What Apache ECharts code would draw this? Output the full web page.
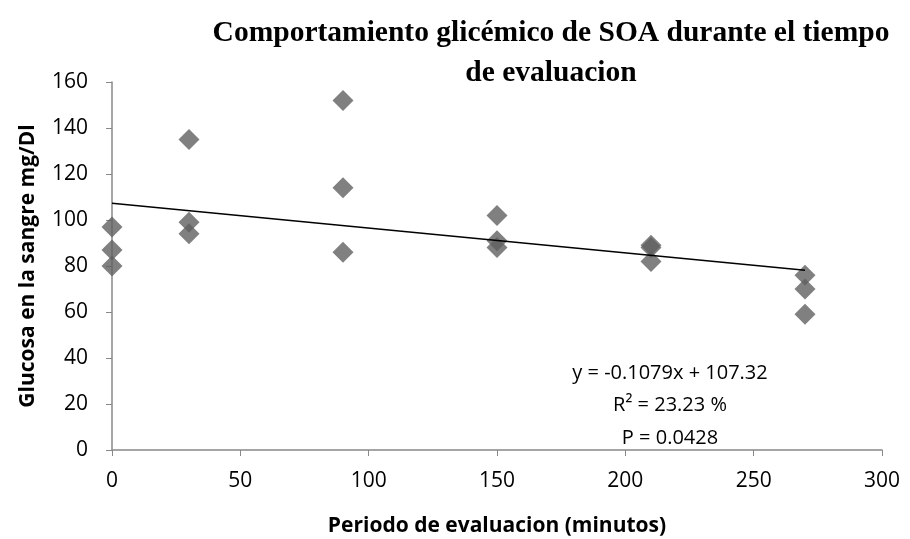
<!DOCTYPE html>
<html><head><meta charset="utf-8">
<script src="https://cdn.jsdelivr.net/npm/echarts@6/dist/echarts.min.js"></script>
<style>html,body{margin:0;padding:0;background:#fff}#c{width:910px;height:539px}</style>
</head><body><div id="c"></div>
<script>
const xValues = [0,0,0,30,30,30,90,90,90,150,150,150,210,210,210,270,270,270];
const yValues = [97,87,80,135,99,94,152,114,86,102,91,88,89,88,82,76,70,59];
const trendSlope = -0.1079;
const trendIntercept = 107.32;
const trendRange = [0, 270];
const xTicks = [0,50,100,150,200,250,300];
const yTicks = [0,20,40,60,80,100,120,140,160];
const titleLines = ['Comportamiento glicémico de SOA durante el tiempo','de evaluacion'];
const statLines = ['y = -0.1079x + 107.32','R² = 23.23 %','P = 0.0428'];

const chart = echarts.init(document.getElementById('c'));
const pts = xValues.map((x,i)=>[x,yValues[i]]);
const trend = trendRange.map(x=>[x, trendIntercept + trendSlope*x]);
const font = 'Open Sans';
chart.setOption({
  animation:false,
  title:{text:titleLines.join('\n'), left:546, top:8, textAlign:'center',
    textStyle:{fontFamily:'Liberation Serif', fontWeight:'bold', fontSize:29.5, color:'#000', lineHeight:40}},
  grid:{left:112, right:28, top:82, bottom:89, outerBoundsMode:'none', containLabel:false},
  xAxis:{type:'value', min:xTicks[0], max:xTicks[xTicks.length-1], interval:50,
    name:'Periodo de evaluacion (minutos)', nameLocation:'middle', nameGap:66,
    nameTextStyle:{fontFamily:font, fontWeight:'bold', fontSize:21, color:'#000'},
    axisLine:{lineStyle:{color:'#888', width:1.5}},
    axisTick:{show:true, length:6, lineStyle:{color:'#888'}},
    axisLabel:{fontFamily:font, fontSize:21, color:'#000', margin:21},
    splitLine:{show:false}},
  yAxis:{type:'value', min:yTicks[0], max:yTicks[yTicks.length-1], interval:20,
    name:'Glucosa en la sangre mg/Dl', nameLocation:'middle', nameGap:73,
    nameTextStyle:{fontFamily:font, fontWeight:'bold', fontSize:21, color:'#000'},
    axisLine:{show:true, lineStyle:{color:'#888', width:1.5}},
    axisTick:{show:true, length:6, lineStyle:{color:'#888'}},
    axisLabel:{fontFamily:font, fontSize:21, color:'#000', margin:24},
    splitLine:{show:false}},
  series:[
    {type:'line', data:trend, symbol:'none', lineStyle:{color:'#000', width:1.5}, z:3},
    {type:'scatter', data:pts, symbol:'diamond', symbolSize:[21,21], itemStyle:{color:'#606060'}, z:2}
  ],
  graphic:statLines.map((t,i)=>({type:'text', x:670, y:373+i*32.5,
    style:{text:t, fontFamily:font, fontSize:20, fill:'#000', textAlign:'center', textVerticalAlign:'middle'}}))
});
</script></body></html>
